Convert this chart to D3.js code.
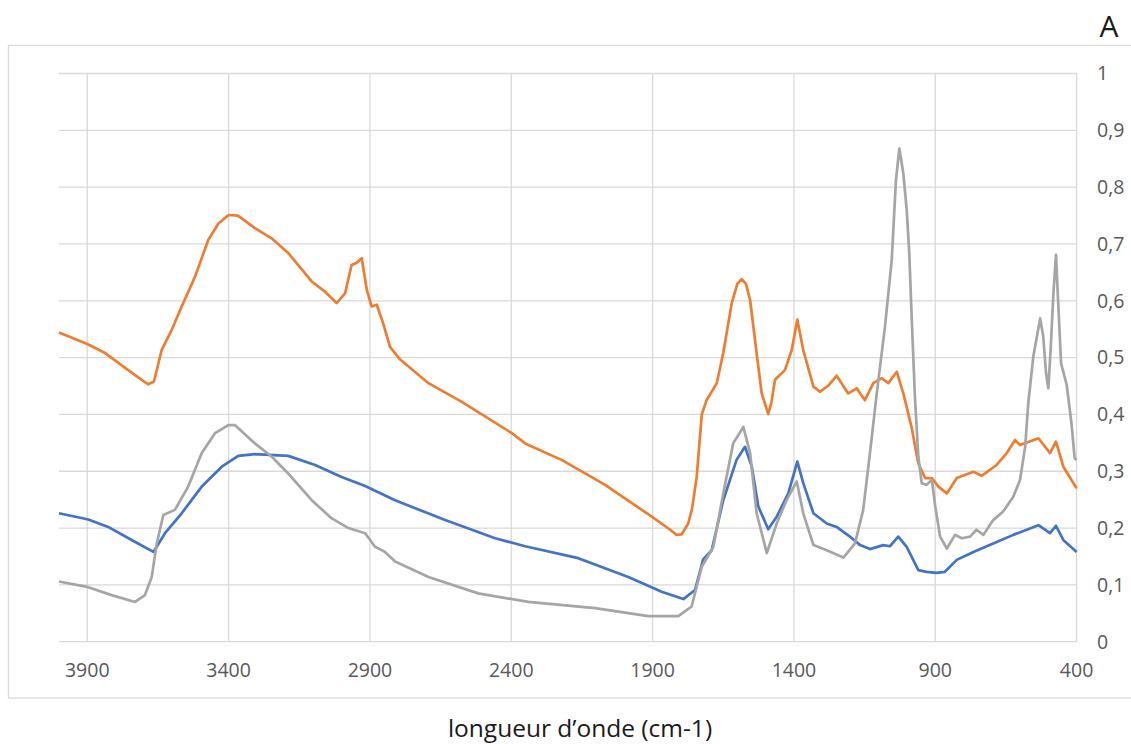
<!DOCTYPE html>
<html>
<head>
<meta charset="utf-8">
<script src="https://cdn.jsdelivr.net/npm/d3@7"></script>
<style>
  html, body { margin: 0; padding: 0; background: #fff; }
  svg { display: block; }
</style>
</head>
<body>
<svg id="chart" width="1131" height="744"></svg>
<script>
// Infrared absorbance spectra, three samples
const xTicks = [3900, 3400, 2900, 2400, 1900, 1400, 900, 400];
const yTicks = [0, 0.1, 0.2, 0.3, 0.4, 0.5, 0.6, 0.7, 0.8, 0.9, 1];

const blueWn  = [4000,3896,3826,3743,3666,3625,3566,3495,3424,3366,3307,3189,3094,3000,2917,2811,2634,2457,2351,2163,1986,1868,1791,1750,1721,1691,1650,1603,1573,1549,1526,1491,1461,1420,1388,1367,1331,1284,1249,1202,1166,1131,1084,1060,1031,1001,960,931,896,866,824,765,695,624,535,494,473,447,400];
const blueAbs = [0.226,0.215,0.202,0.179,0.158,0.191,0.226,0.273,0.308,0.327,0.330,0.327,0.311,0.290,0.274,0.249,0.214,0.182,0.168,0.147,0.114,0.088,0.075,0.091,0.145,0.161,0.249,0.320,0.343,0.308,0.238,0.198,0.220,0.261,0.317,0.279,0.226,0.208,0.202,0.185,0.170,0.163,0.170,0.168,0.185,0.167,0.126,0.123,0.121,0.123,0.144,0.158,0.173,0.188,0.205,0.191,0.204,0.179,0.158];

const orangeWn  = [4000,3900,3837,3755,3700,3684,3664,3637,3601,3566,3519,3472,3436,3400,3367,3307,3248,3189,3106,3059,3018,2988,2965,2947,2929,2911,2894,2876,2853,2829,2794,2693,2575,2398,2351,2222,2068,1903,1838,1815,1797,1774,1760,1744,1726,1709,1673,1650,1620,1600,1585,1570,1555,1532,1514,1491,1480,1467,1432,1408,1388,1367,1331,1308,1280,1249,1208,1178,1149,1119,1090,1066,1036,1013,984,960,936,912,889,859,824,765,736,683,647,618,600,535,494,473,447,400];
const orangeAbs = [0.544,0.524,0.508,0.478,0.458,0.453,0.458,0.513,0.549,0.590,0.642,0.707,0.736,0.751,0.750,0.728,0.710,0.684,0.634,0.616,0.596,0.613,0.663,0.667,0.675,0.619,0.590,0.593,0.560,0.519,0.497,0.455,0.422,0.367,0.349,0.320,0.276,0.220,0.197,0.188,0.189,0.208,0.235,0.290,0.400,0.425,0.455,0.508,0.596,0.630,0.638,0.630,0.601,0.508,0.437,0.401,0.420,0.461,0.478,0.513,0.567,0.513,0.449,0.440,0.450,0.468,0.437,0.446,0.425,0.455,0.464,0.455,0.475,0.437,0.378,0.314,0.288,0.288,0.273,0.261,0.288,0.299,0.292,0.311,0.332,0.355,0.346,0.358,0.332,0.352,0.308,0.270];

const grayWn  = [4000,3896,3814,3731,3696,3672,3654,3631,3590,3543,3495,3448,3401,3377,3307,3248,3189,3106,3035,2976,2917,2882,2847,2811,2693,2517,2340,2104,1915,1809,1762,1726,1685,1650,1615,1579,1555,1532,1496,1461,1426,1390,1367,1331,1284,1225,1184,1155,1131,1107,1078,1054,1039,1027,1013,1001,992,984,972,960,948,931,912,900,883,859,830,806,777,754,730,695,660,624,600,582,571,553,529,518,508,500,492,482,473,465,455,435,418,407,400];
const grayAbs = [0.106,0.096,0.082,0.070,0.082,0.114,0.173,0.223,0.232,0.273,0.332,0.367,0.381,0.381,0.349,0.326,0.296,0.249,0.217,0.200,0.191,0.167,0.158,0.141,0.114,0.085,0.070,0.059,0.045,0.045,0.062,0.132,0.167,0.261,0.349,0.378,0.332,0.226,0.156,0.208,0.249,0.282,0.226,0.170,0.161,0.148,0.173,0.232,0.332,0.437,0.554,0.672,0.813,0.868,0.824,0.760,0.684,0.578,0.431,0.326,0.279,0.276,0.285,0.238,0.185,0.164,0.188,0.182,0.185,0.197,0.188,0.214,0.229,0.255,0.285,0.343,0.420,0.502,0.569,0.537,0.472,0.446,0.513,0.613,0.681,0.596,0.490,0.452,0.384,0.323,0.320];

const series = [
  { wn: blueWn,   abs: blueAbs,   color: "#4472C4" },
  { wn: orangeWn, abs: orangeAbs, color: "#ED7D31" },
  { wn: grayWn,   abs: grayAbs,   color: "#A5A5A5" }
];

const svg = d3.select("#chart");
const plot = { left: 59, right: 1076.6, top: 73.5, bottom: 641.7 };

const x = d3.scaleLinear().domain([4000, 400]).range([plot.left, plot.right]);
const y = d3.scaleLinear().domain([0, 1]).range([plot.bottom, plot.top]);

const grid = "#d9d9d9";
const tickColor = "#595959";
const font = "'Open Sans', 'Noto Sans', sans-serif";

// outer chart frame
svg.append("rect")
  .attr("x", 8.5).attr("y", 45.5)
  .attr("width", 1130).attr("height", 652.5)
  .attr("fill", "none").attr("stroke", grid).attr("stroke-width", 1.3);

// horizontal gridlines
svg.append("g").selectAll("line").data(yTicks).join("line")
  .attr("x1", plot.left).attr("x2", plot.right)
  .attr("y1", d => y(d)).attr("y2", d => y(d))
  .attr("stroke", grid).attr("stroke-width", 1.3);

// vertical gridlines
svg.append("g").selectAll("line").data(xTicks).join("line")
  .attr("x1", d => x(d)).attr("x2", d => x(d))
  .attr("y1", plot.top).attr("y2", plot.bottom)
  .attr("stroke", grid).attr("stroke-width", 1.3);

// y tick labels on the right, decimal comma
const fmtY = d => String(+d.toFixed(1)).replace(".", ",");
svg.append("g").selectAll("text").data(yTicks).join("text")
  .attr("x", 1097).attr("y", d => y(d))
  .attr("dy", "0.35em")
  .attr("font-family", font).attr("font-size", 19.5)
  .attr("fill", tickColor)
  .text(fmtY);

// x tick labels
svg.append("g").selectAll("text").data(xTicks).join("text")
  .attr("x", d => x(d)).attr("y", 670)
  .attr("dy", "0.35em")
  .attr("text-anchor", "middle")
  .attr("font-family", font).attr("font-size", 19.5)
  .attr("fill", tickColor)
  .text(d => d);

// spectra
const line = d3.line().x(d => x(d[0])).y(d => y(d[1]));
svg.append("g").selectAll("path").data(series).join("path")
  .attr("d", s => line(s.wn.map((w, i) => [w, s.abs[i]])))
  .attr("fill", "none")
  .attr("stroke", s => s.color)
  .attr("stroke-width", 2.7)
  .attr("stroke-linejoin", "round");

// axis titles
svg.append("text")
  .attr("x", 580).attr("y", 737)
  .attr("text-anchor", "middle")
  .attr("font-family", font).attr("font-size", 24.5)
  .attr("fill", "#1a1a1a")
  .text("longueur d’onde (cm-1)");

svg.append("text")
  .attr("x", 1109).attr("y", 37)
  .attr("text-anchor", "middle")
  .attr("font-family", font).attr("font-size", 30)
  .attr("fill", "#1a1a1a")
  .text("A");
</script>
</body>
</html>
